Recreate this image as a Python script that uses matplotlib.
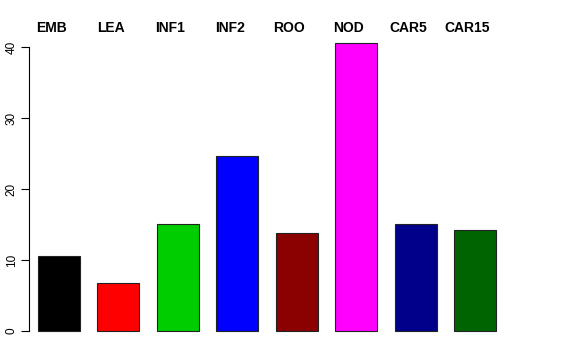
import matplotlib
matplotlib.use("Agg")
import matplotlib.pyplot as plt
import matplotlib.transforms as mtransforms

categories = ["EMB", "LEA", "INF1", "INF2", "ROO", "NOD", "CAR5", "CAR15"]
values = [10.55, 6.8, 15.0, 24.65, 13.8, 40.6, 15.0, 14.25]
colors = ["#000000", "#FF0000", "#00CD00", "#0000FF", "#8B0000", "#FF00FF", "#00008B", "#006400"]
yticks = [0, 10, 20, 30, 40]

plt.rcParams['font.family'] = ['Liberation Sans', 'DejaVu Sans']

fig = plt.figure(figsize=(5.76, 3.6), dpi=100)
ax = fig.add_axes([29/576, 1 - 342.5/360, (505 - 29)/576, (342.5 - 31.5)/360])

x = list(range(len(categories)))
ax.bar(x, values, width=0.707, color=colors, edgecolor="#222222", linewidth=0.8)

ax.set_xlim(-0.505, 7.505)
ax.set_ylim(-1.62, 42.18)

for s in ["top", "right", "bottom"]:
    ax.spines[s].set_visible(False)
ax.spines["left"].set_bounds(0, 40)
ax.spines["left"].set_linewidth(0.8)
ax.set_xticks([])
ax.set_yticks(yticks)
ax.set_yticklabels([str(t) for t in yticks], rotation=90, va="center", fontsize=8.5)
ax.tick_params(axis="y", length=6, width=0.8, pad=2)

trans = mtransforms.blended_transform_factory(ax.transData, fig.transFigure)
for xi, lab in zip(x, categories):
    ax.text(xi - 0.125, 1 - 28/360, lab, transform=trans, ha="center", va="center",
            fontsize=10, fontweight="bold", clip_on=False)

fig.savefig("out.png", dpi=100)
